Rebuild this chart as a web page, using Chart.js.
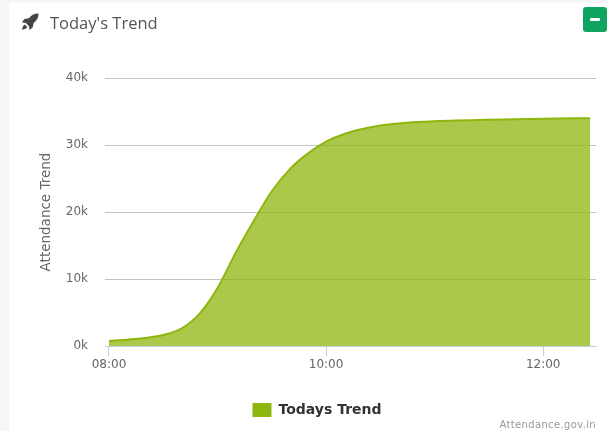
<!DOCTYPE html>
<html>
<head>
<meta charset="utf-8">
<script src="https://cdn.jsdelivr.net/npm/chart.js@4"></script>
<style>
html,body{margin:0;padding:0;width:608px;height:431px;overflow:hidden;background:#f6f6f6}
#panel{position:absolute;left:9px;top:3px;width:599px;height:428px;background:#fff}
#wrap{position:absolute;left:0;top:0;width:608px;height:431px}
#title{position:absolute;left:50px;top:11px;font:16.5px/24px "Open Sans",sans-serif;color:#555}
#icon{position:absolute;left:21px;top:13px;width:18px;height:18px}
#btn{position:absolute;left:583px;top:7px;width:24px;height:25px;background:#0fa45f;border-radius:3px}
#btn i{position:absolute;left:7px;top:11px;width:10px;height:3px;background:#fff;border-radius:1px}
#credit{position:absolute;right:12px;top:418px;font:10px/14px "DejaVu Sans",sans-serif;color:#999;letter-spacing:.35px}
</style>
</head>
<body>
<div id="panel"></div>
<div id="wrap"><canvas id="c" width="608" height="431"></canvas></div>
<svg id="icon" viewBox="0 0 18 18"><path fill="#444" d="M17.5.5C13.5.3 10.3 1.800 7.800 5.200L3.500 6 .8 9.500l3.700.2 3.600 3.600.3 3.700 3.400-2.800.8-4.300C16 7.400 17.700 4.400 17.500.5zM3.800 11.500C2.300 12 1.500 14 1 16.800c2.800-.5 4.700-1.300 5.300-2.800z"/></svg>
<div id="title">Today's Trend</div>
<div id="btn"><i></i></div>
<div id="credit">Attendance.gov.in</div>
<script>
const seriesName = "Todays Trend";
const yAxisTitle = "Attendance Trend";
const minutes = [480,490,500,510,520,530,540,550,560,570,580,590,600,610,620,630,640,650,660,690,720,746];
const attendance = [750,950,1200,1650,2600,4800,8650,13900,18650,23100,26400,28750,30500,31650,32400,32900,33220,33430,33560,33780,33920,34000];
const xTickMinutes = [480,600,720];
const yTicks = [0,10000,20000,30000,40000];
const lineColor = "#8fb50f";
const fillColor = "rgba(143,181,15,0.75)";
const textColor = "#666";
const pad2 = n => String(n).padStart(2,"0");

new Chart(document.getElementById("c"),{
  type:"line",
  data:{datasets:[{
    label:seriesName,
    data:minutes.map((m,i)=>({x:m,y:attendance[i]})),
    borderColor:lineColor,
    backgroundColor:fillColor,
    borderWidth:2,
    fill:"origin",
    pointRadius:0,
    cubicInterpolationMode:"monotone"
  }]},
  options:{
    responsive:false,animation:false,
    layout:{padding:{left:38,right:12,top:78,bottom:4}},
    scales:{
      x:{type:"linear",min:477.8,max:749.2,
        afterBuildTicks:s=>{s.ticks=xTickMinutes.map(v=>({value:v}))},
        afterFit:s=>{s.height=51},
        grid:{drawOnChartArea:false,drawTicks:true,tickLength:10,color:"#c0d0e0"},
        border:{color:"#c0d0e0",width:1},
        ticks:{autoSkip:false,maxRotation:0,padding:2,color:textColor,font:{family:"DejaVu Sans",size:12},
          callback:v=>pad2(Math.floor(v/60))+":"+pad2(v%60)}
      },
      y:{min:0,max:40000,
        afterBuildTicks:s=>{s.ticks=yTicks.map(v=>({value:v}))},
        afterFit:s=>{s.width=67},
        grid:{color:"#c4c4c4",lineWidth:1,drawTicks:false},
        border:{display:false},
        title:{display:true,text:yAxisTitle,color:textColor,padding:0,font:{family:"DejaVu Sans",size:13.5}},
        ticks:{padding:17,color:textColor,font:{family:"DejaVu Sans",size:12},callback:v=>(v/1000)+"k"}
      }
    },
    plugins:{
      tooltip:{enabled:false},
      legend:{display:true,position:"bottom",
        labels:{boxWidth:19,boxHeight:14,color:"#333",padding:6,font:{family:"DejaVu Sans",size:14,weight:"bold"},
          generateLabels:c=>[{text:seriesName,fillStyle:lineColor,strokeStyle:lineColor,lineWidth:0,fontColor:"#333"}]}
      }
    }
  }
});
</script>
</body>
</html>
